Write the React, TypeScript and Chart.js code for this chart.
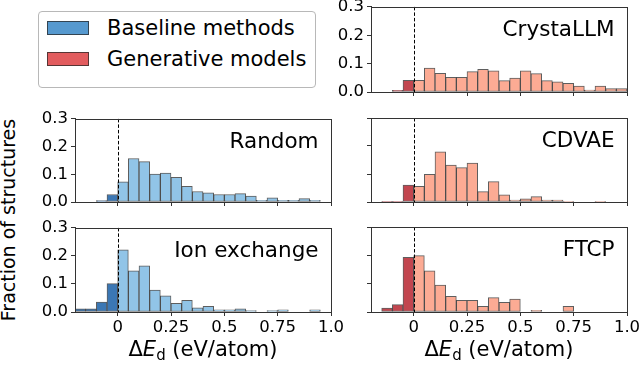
import React, { useEffect, useRef } from 'react';
import { Chart, registerables } from 'chart.js';

Chart.register(...registerables);

// Histogram bin centres (bin width 0.05 eV/atom), from -0.2 to 1.0
const binCenters = [
  -0.175, -0.125, -0.075, -0.025, 0.025, 0.075, 0.125, 0.175, 0.225, 0.275, 0.325, 0.375,
  0.425, 0.475, 0.525, 0.575, 0.625, 0.675, 0.725, 0.775, 0.825, 0.875, 0.925, 0.975,
];

const crystaLLM = [0, 0, 0.006, 0.041, 0.041, 0.084, 0.066, 0.052, 0.052, 0.072, 0.08, 0.075, 0.04, 0.049, 0.075, 0.065, 0.04, 0.036, 0.031, 0.021, 0.007, 0.021, 0.012, 0.012];
const randomVals = [0, 0, 0.005, 0.027, 0.073, 0.157, 0.146, 0.101, 0.104, 0.089, 0.057, 0.038, 0.033, 0.027, 0.027, 0.03, 0.021, 0.006, 0.015, 0.006, 0.006, 0.012, 0.006, 0];
const cdvae = [0, 0.002, 0.002, 0.06, 0.056, 0.099, 0.179, 0.132, 0.123, 0.139, 0.037, 0.073, 0.026, 0.007, 0.011, 0.019, 0.007, 0.007, 0.002, 0, 0, 0.002, 0, 0];
const ionExchange = [0.011, 0.011, 0.035, 0.101, 0.222, 0.147, 0.165, 0.078, 0.058, 0.031, 0.042, 0.015, 0.02, 0.008, 0.008, 0.011, 0.005, 0, 0.005, 0.008, 0, 0, 0.008, 0];
const ftcp = [0, 0.014, 0.026, 0.193, 0.199, 0.145, 0.095, 0.055, 0.041, 0.041, 0.02, 0.051, 0.034, 0.046, 0, 0.006, 0, 0, 0.02, 0, 0, 0, 0, 0];

const xTickValues = [0, 0.25, 0.5, 0.75, 1.0];
const xTickLabels = ['0', '0.25', '0.5', '0.75', '1.0'];
const yTickValues = [0, 0.1, 0.2, 0.3];
const yTickLabels = ['0.0', '0.1', '0.2', '0.3'];

const legendLabels = ['Baseline methods', 'Generative models'];

const BLUE_NEG = '#3b77b4';
const BLUE_POS = '#91c4e7';
const RED_NEG = '#c2464f';
const RED_POS = '#fcab94';
const LEGEND_BLUE = '#5699cf';
const LEGEND_RED = '#e25c5e';
const EDGE = 'rgba(40,40,40,0.75)';
const AXIS = '#333333';
const FONT = 'DejaVu Sans';

type PanelProps = {
  values: number[];
  label: string;
  neg: string;
  pos: string;
  left: number;
  top: number;
  width: number;
  height: number;
  showX: boolean;
  showY: boolean;
};

function Panel({ values, label, neg, pos, left, top, width, height, showX, showY }: PanelProps) {
  const ref = useRef<HTMLCanvasElement>(null);
  const WY = 46;
  const PT = 12;
  const PR = 18;
  const HX = showX ? 36 : 14;
  const cw = WY + width + PR;
  const ch = PT + height + HX;

  useEffect(() => {
    const canvas = ref.current;
    if (!canvas) return;

    const framePlugin = {
      id: 'frame',
      afterDatasetsDraw(chart: any) {
        const { ctx, chartArea: a, scales } = chart;
        ctx.save();
        // dashed line at zero
        const x0 = Math.round(scales.x.getPixelForValue(0)) + 0.5;
        ctx.strokeStyle = '#000';
        ctx.lineWidth = 1;
        ctx.setLineDash([3.5, 2]);
        ctx.beginPath();
        ctx.moveTo(x0, a.top);
        ctx.lineTo(x0, a.bottom);
        ctx.stroke();
        ctx.setLineDash([]);
        // full frame
        ctx.strokeStyle = AXIS;
        ctx.lineWidth = 1;
        ctx.strokeRect(Math.round(a.left) + 0.5, Math.round(a.top) + 0.5, Math.round(a.right - a.left), Math.round(a.bottom - a.top));
        // panel label
        ctx.fillStyle = '#000';
        ctx.font = `21.5px "${FONT}"`;
        ctx.textAlign = 'right';
        ctx.textBaseline = 'alphabetic';
        ctx.fillText(label, a.right - 12.5, a.top + 29);
        ctx.restore();
      },
    };

    const chart = new Chart(canvas, {
      type: 'bar',
      data: {
        datasets: [
          {
            data: binCenters.map((x, i) => ({ x, y: values[i] })),
            backgroundColor: binCenters.map((x) => (x < 0 ? neg : pos)),
            borderColor: EDGE,
            borderWidth: 1,
            borderSkipped: false,
            categoryPercentage: 1,
            barPercentage: 1,
            grouped: false,
          } as any,
        ],
      },
      options: {
        animation: false,
        responsive: false,
        devicePixelRatio: 1,
        layout: { padding: { top: PT, right: PR, left: 0, bottom: 0 } },
        plugins: { legend: { display: false }, tooltip: { enabled: false } },
        scales: {
          x: {
            type: 'linear',
            min: -0.2,
            max: 1.0,
            offset: false,
            afterBuildTicks: (s: any) => {
              s.ticks = xTickValues.map((v) => ({ value: v }));
            },
            afterFit: (s: any) => {
              s.height = HX;
            },
            ticks: {
              display: showX,
              color: '#000',
              font: { family: FONT, size: 16.5 },
              padding: 2,
              maxRotation: 0,
              autoSkip: false,
              callback: (_v: any, i: number) => xTickLabels[i],
            },
            grid: { drawOnChartArea: false, drawTicks: true, tickLength: 4, color: AXIS, offset: false },
            border: { display: true, color: AXIS, width: 1 },
          },
          y: {
            type: 'linear',
            min: 0,
            max: 0.3,
            afterBuildTicks: (s: any) => {
              s.ticks = yTickValues.map((v) => ({ value: v }));
            },
            afterFit: (s: any) => {
              s.width = WY;
            },
            ticks: {
              display: showY,
              color: '#000',
              font: { family: FONT, size: 16.5 },
              padding: 3,
              autoSkip: false,
              callback: (_v: any, i: number) => yTickLabels[i],
            },
            grid: { drawOnChartArea: false, drawTicks: true, tickLength: 4, color: AXIS },
            border: { display: true, color: AXIS, width: 1 },
          },
        },
      } as any,
      plugins: [framePlugin],
    });
    return () => chart.destroy();
  }, []);

  return (
    <canvas
      ref={ref}
      width={cw}
      height={ch}
      style={{ position: 'absolute', left: left - WY, top: top - PT, width: cw, height: ch }}
    />
  );
}

const textStyle: React.CSSProperties = {
  position: 'absolute',
  fontFamily: FONT,
  color: '#000',
  whiteSpace: 'nowrap',
};

function XTitle({ left }: { left: number }) {
  return (
    <div style={{ ...textStyle, left, width: 256, top: 336, textAlign: 'center', fontSize: 21, lineHeight: '26px' }}>
      Δ<i>E</i>
      <span style={{ fontSize: 15, position: 'relative', top: 4 }}>d</span> (eV/atom)
    </div>
  );
}

export default function App() {
  useEffect(() => {
    document.body.style.margin = '0';
  }, []);
  return (
    <div style={{ position: 'absolute', left: 0, top: 0, width: 640, height: 366, background: '#fff', overflow: 'hidden' }}>
      {/* Legend */}
      <div
        style={{
          position: 'absolute',
          left: 38,
          top: 10.5,
          width: 278,
          height: 77,
          border: '1px solid #b8b8b8',
          borderRadius: 4,
          boxSizing: 'border-box',
          background: '#fff',
        }}
      />
      <div style={{ position: 'absolute', left: 47, top: 21, width: 42, height: 13.5, background: LEGEND_BLUE, border: '1px solid rgba(40,40,40,0.75)', boxSizing: 'border-box' }} />
      <div style={{ position: 'absolute', left: 47, top: 51.5, width: 42, height: 14.5, background: LEGEND_RED, border: '1px solid rgba(40,40,40,0.75)', boxSizing: 'border-box' }} />
      <div style={{ ...textStyle, left: 107, top: 15, fontSize: 21, lineHeight: '26px' }}>{legendLabels[0]}</div>
      <div style={{ ...textStyle, left: 107, top: 46, fontSize: 21, lineHeight: '26px' }}>{legendLabels[1]}</div>

      <Panel values={crystaLLM} label="CrystaLLM" neg={RED_NEG} pos={RED_POS} left={371} top={6} width={256} height={86} showX={false} showY={true} />
      <Panel values={randomVals} label="Random" neg={BLUE_NEG} pos={BLUE_POS} left={75} top={118} width={256} height={84} showX={false} showY={true} />
      <Panel values={cdvae} label="CDVAE" neg={RED_NEG} pos={RED_POS} left={371} top={118} width={256} height={84} showX={false} showY={false} />
      <Panel values={ionExchange} label="Ion exchange" neg={BLUE_NEG} pos={BLUE_POS} left={75} top={227} width={256} height={85} showX={true} showY={true} />
      <Panel values={ftcp} label="FTCP" neg={RED_NEG} pos={RED_POS} left={371} top={227} width={256} height={85} showX={true} showY={false} />

      <XTitle left={75} />
      <XTitle left={371} />

      <div
        style={{
          ...textStyle,
          left: 8.4 - 150,
          top: 220 - 11,
          width: 300,
          height: 22,
          lineHeight: '22px',
          fontSize: 19,
          textAlign: 'center',
          transform: 'rotate(-90deg)',
        }}
      >
        Fraction of structures
      </div>
    </div>
  );
}
